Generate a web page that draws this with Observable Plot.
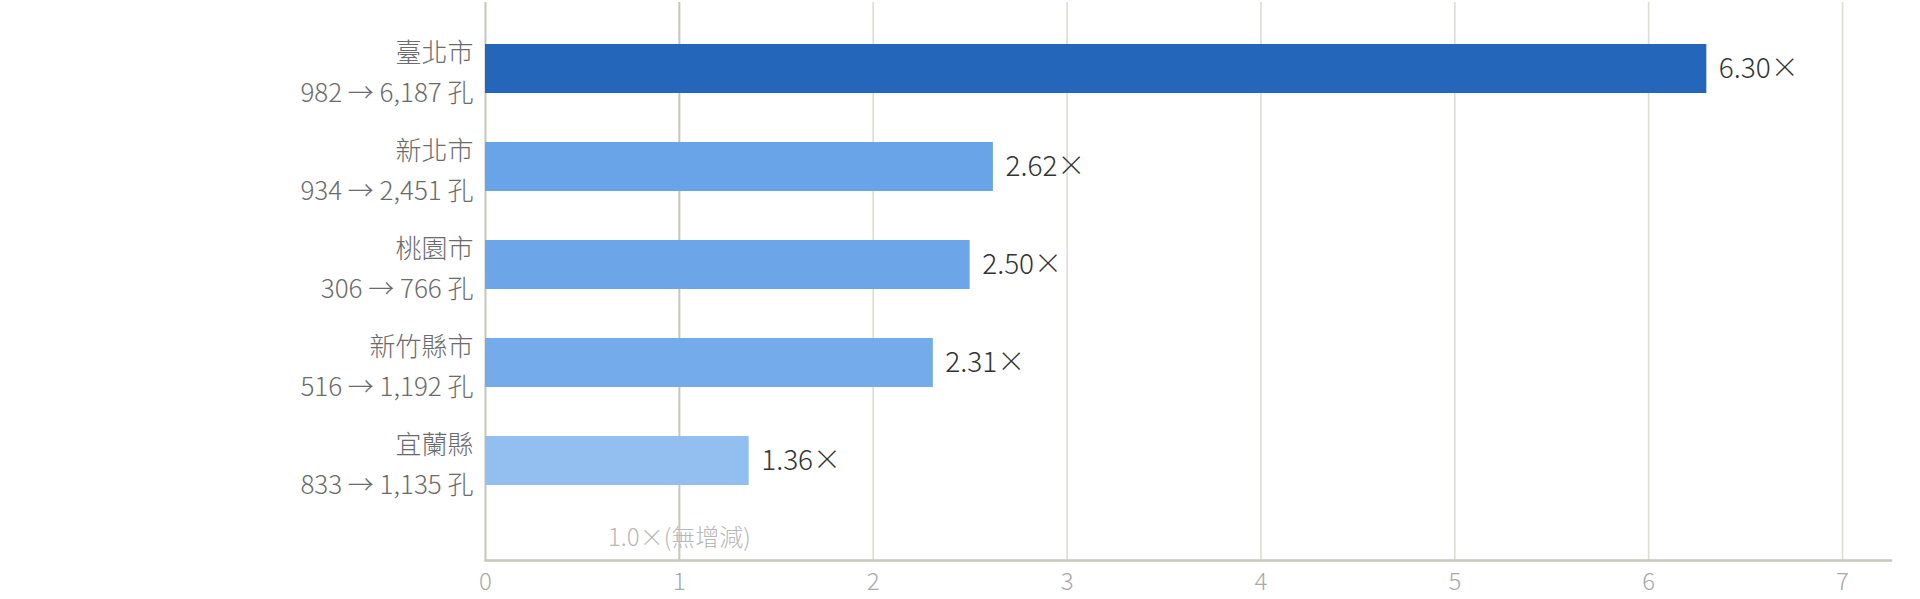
<!DOCTYPE html>
<html>
<head>
<meta charset="utf-8">
<script src="https://cdn.jsdelivr.net/npm/d3@7"></script>
<script src="https://cdn.jsdelivr.net/npm/@observablehq/plot@0.6"></script>
<style>
  html, body { margin: 0; padding: 0; background: #fff; }
  #chart svg { display: block; }
</style>
</head>
<body>
<div id="chart"></div>
<script>
const cities = ["臺北市", "新北市", "桃園市", "新竹縣市", "宜蘭縣"];
const before = [982, 934, 306, 516, 833];
const after = [6187, 2451, 766, 1192, 1135];
const ratios = [6.30, 2.62, 2.50, 2.31, 1.36];
const barColors = ["#2366ba", "#6aa4e8", "#6ca6e9", "#74abea", "#93bef0"];
const xTicks = [0, 1, 2, 3, 4, 5, 6, 7];
const baselineNote = "1.0×(無增減)";

const rows = cities.map((c, i) => ({
  city: c, before: before[i], after: after[i], ratio: ratios[i], color: barColors[i]
}));
const fmt = d3.format(",");
const FONT = "'Noto Sans CJK TC', 'Noto Sans', sans-serif";

const chart = Plot.plot({
  width: 1920,
  height: 599,
  marginLeft: 485,
  marginRight: 29.5,
  marginTop: 2,
  marginBottom: 39,
  style: { fontFamily: FONT, fontWeight: 300, background: "#fff" },
  x: { domain: [0, 7.25], label: null },
  y: { domain: cities, range: [18.4, 510.9], paddingInner: 0.5, paddingOuter: 0.25, align: 0.5, axis: null },
  color: { type: "identity" },
  marks: [
    Plot.ruleX(xTicks.filter(t => t >= 2), { stroke: "#dfddd5", strokeWidth: 1.7, strokeOpacity: 1 }),
    Plot.ruleX([0, 1], { stroke: "#c6c6ba", strokeWidth: 2, strokeOpacity: 1 }),
    Plot.barX(rows, { x: "ratio", y: "city", fill: "color" }),
    Plot.frame({ anchor: "bottom", stroke: "#c6c6ba", strokeWidth: 2.5, strokeOpacity: 1 }),
    Plot.axisX({ ticks: xTicks, tickSize: 0, tickPadding: 12, fontSize: 24, color: "#a9a9a9", label: null, tickFormat: d => String(d) }),
    Plot.text(rows, {
      x: "ratio", y: "city", text: d => d.ratio.toFixed(2) + "×",
      dx: 12, textAnchor: "start", fontSize: 28, fill: "#333"
    }),
    Plot.text(rows, {
      y: "city", frameAnchor: "left", dx: -12, textAnchor: "end",
      text: d => d.city + "\n" + fmt(d.before) + " → " + fmt(d.after) + " 孔",
      lineHeight: 1.54, fontSize: 26, fill: "#6b6b6b"
    }),
    Plot.text([baselineNote], {
      x: () => 1, frameAnchor: "bottom", lineAnchor: "middle", dy: -22,
      text: d => d, fontSize: 24, fill: "#b8b8b8"
    })
  ]
});
document.getElementById("chart").appendChild(chart);
</script>
</body>
</html>
